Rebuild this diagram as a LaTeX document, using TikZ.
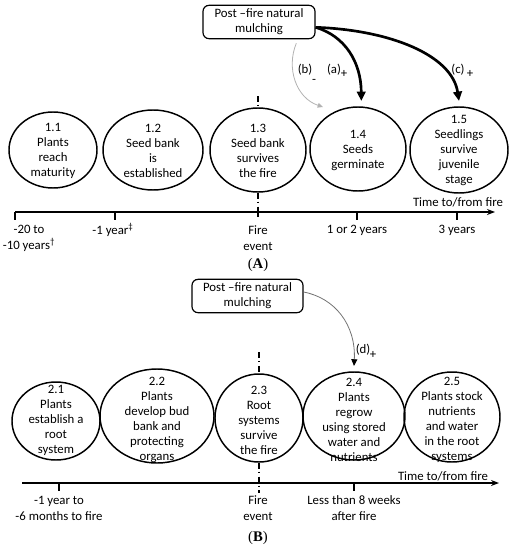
\documentclass[tikz,border=0pt]{standalone}
\usepackage{fontspec}
\setmainfont{Carlito}
\newfontfamily\panelfont{Liberation Serif}
\usetikzlibrary{shapes.geometric,arrows.meta}
\begin{document}
\begin{tikzpicture}[x=0.75pt,y=-0.75pt,
  ell/.style 2 args={ellipse,draw,line width=1.1pt,minimum width=#1*0.75pt,minimum height=#2*0.75pt,inner sep=0pt},
  txt/.style={align=center,inner sep=0pt,font=\fontsize{9.6}{11.25}\selectfont},
  lbl/.style={align=center,inner sep=0pt,font=\fontsize{9.6}{12}\selectfont},
  mbox/.style={draw,rounded corners=4.5pt,line width=0.9pt,minimum width=#1*0.75pt,minimum height=25pt,align=center,inner sep=0pt,font=\fontsize{9.6}{11.25}\selectfont},
  axis/.style={line width=1.1pt,-{Stealth[length=6pt,width=4.5pt]}},
  tickln/.style={line width=1.1pt},
  fireline/.style={line width=1.4pt,dash pattern=on 4.5pt off 2.2pt on 1.1pt off 2.6pt},
  bigarr/.style={line width=2pt,-{Triangle[length=7pt,width=6.5pt]}},
  grayarr/.style={line width=0.6pt,color=black!30,-{Triangle[length=4pt,width=3.5pt]}},
  darr/.style={line width=0.6pt,color=black!55,-{Triangle[length=5pt,width=4.5pt,black]}},
  panel/.style={inner sep=0pt,font=\panelfont\fontsize{11}{13}\selectfont},
  sgn/.style={inner sep=0pt,font=\fontsize{9.6}{11.25}\selectfont}]
\useasboundingbox (0,0) rectangle (514,550);

% ---------------- Panel A ----------------
\node[mbox=112] (boxA) at (259,22) {Post --fire natural\\mulching};

\node[ell={88}{76}] (c11) at (53,150) {};
\node[ell={100}{80}] (c12) at (153,150) {};
\node[ell={96}{84}] (c13) at (258,150) {};
\node[ell={96}{84}] (c14) at (358,149) {};
\node[ell={98}{86}] (c15) at (459,150) {};

\node[txt] (t11) at (53,150.5) {1.1\\Plants\\reach\\maturity};
\node[txt] (t12) at (153,150.5) {1.2\\Seed bank\\is\\established};
\node[txt] (t13) at (258,150.5) {1.3\\Seed bank\\survives\\the fire};
\node[txt] (t14) at (358,150) {1.4\\Seeds\\germinate};
\node[txt] (t15) at (459,150) {1.5\\Seedlings\\survive\\juvenile\\stage};

\coordinate (fA) at (258,96);
\coordinate (fireA) at (258,212);
\draw[fireline] (fA) -- (c13.north);
\draw[fireline] (c13.south) -- (fireA);
\draw[tickln] ([yshift=2.5pt]fireA) -- ([yshift=-4pt]fireA);

\coordinate (axAs) at (15,212);
\coordinate (axAe) at (495,212);
\draw[axis] (axAs) -- (axAe);
\foreach \x in {15,115,357,457} \draw[tickln] (\x,212) -- (\x,220);
\node[txt] (timeA) at (458,202) {Time to/from fire};

\node[lbl] (lA1) at (29,238) {-20 to\\-10 years\textsuperscript{\dag}};
\node[lbl] (lA2) at (113,230) {-1 year\textsuperscript{\ddag}};
\node[lbl] (lA3) at (258,238) {Fire\\event};
\node[lbl] (lA4) at (357,230) {1 or 2 years};
\node[lbl] (lA5) at (457,230) {3 years};
\node[panel] (pA) at (258,265) {(\textbf{A})};

\draw[bigarr] ([yshift=-4pt]boxA.east) .. controls (345,36) and (361,62) .. ([xshift=2.5pt,yshift=4pt]c14.north);
\draw[bigarr] ([yshift=-4pt]boxA.east) .. controls (390,30) and (452,55) .. ([yshift=4pt]c15.north);
\coordinate (bEnd) at (323,107);
\draw[grayarr] ([xshift=28pt,yshift=-3pt]boxA.south) .. controls (286,68) and (296,98) .. (bEnd);

\node[sgn] (la) at (334,70) {(a)};
\node[sgn] (lap) at (344,74) {+};
\node[sgn] (lb) at (305,70) {(b)};
\node[sgn] (lbm) at (314,81) {-};
\node[sgn] (lc) at (458,70) {(c)};
\node[sgn] (lcp) at (470,74) {+};

% ---------------- Panel B ----------------
\node[mbox=111] (boxB) at (247.5,296) {Post --fire natural\\mulching};

\node[ell={88}{78}] (c21) at (56,421) {};
\node[ell={114}{94}] (c22) at (157,416) {};
\node[ell={88}{88}] (c23) at (259,418) {};
\node[ell={102}{88}] (c24) at (354,416) {};
\node[ell={96}{90}] (c25) at (452,417) {};

\node[txt] (t21) at (56,420) {2.1\\Plants\\establish a\\root\\system};
\node[txt] (t22) at (157,420) {2.2\\Plants\\develop bud\\bank and\\protecting\\organs};
\node[txt] (t23) at (259,420) {2.3\\Root\\systems\\survive\\the fire};
\node[txt] (t24) at (354,420) {2.4\\Plants\\regrow\\using stored\\water and\\nutrients};
\node[txt] (t25) at (452,420) {2.5\\Plants stock\\nutrients\\and water\\in the root\\systems};

\coordinate (fB) at (259,352);
\coordinate (fireB) at (259,493);
\draw[fireline] (fB) -- (c23.north);
\draw[fireline] (c23.south) -- (fireB);

\coordinate (axBs) at (22,483);
\coordinate (axBe) at (499,483);
\draw[axis] (axBs) -- (axBe);
\foreach \x in {59,354} \draw[tickln] (\x,483) -- (\x,491);
\node[txt] (timeB) at (443,476) {Time to/from fire};

\node[lbl] (lB1) at (59,508) {-1 year to\\-6 months to fire};
\node[lbl] (lB2) at (258,508) {Fire\\event};
\node[lbl] (lB3) at (354,508) {Less than 8 weeks\\after fire};
\node[panel] (pB) at (258,538) {(\textbf{B})};

\draw[darr] ([yshift=3pt]boxB.east) .. controls (335,298) and (356,325) .. ([yshift=4pt]c24.north);
\node[sgn] (ld) at (363,350) {(d)};
\node[sgn] (ldp) at (373,355) {+};
\end{tikzpicture}
\end{document}
